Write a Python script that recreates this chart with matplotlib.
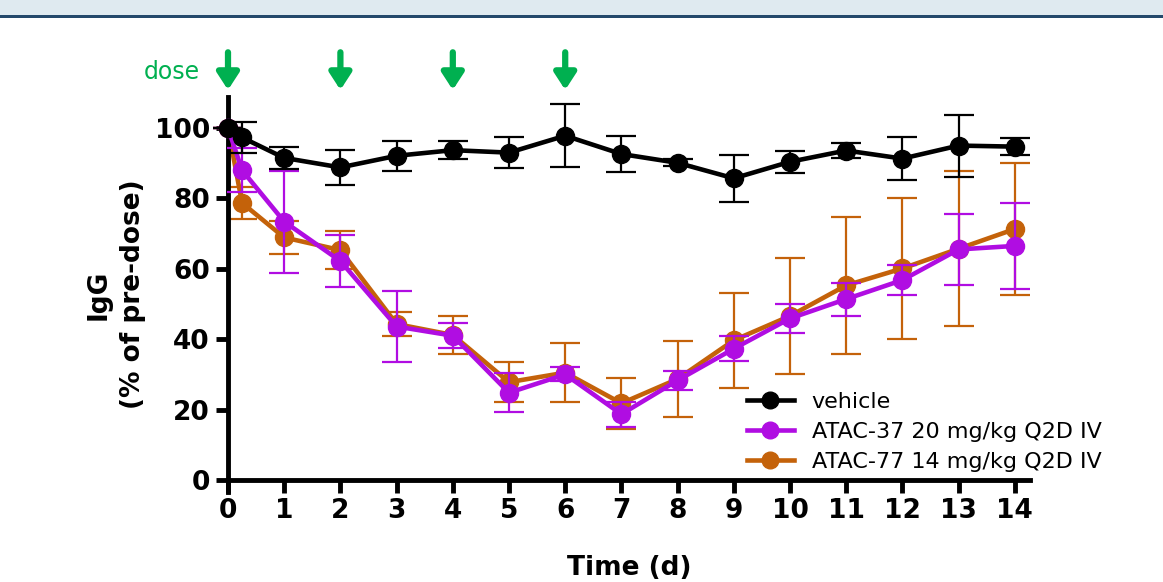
import numpy as np
import matplotlib
matplotlib.use("Agg")
import matplotlib.pyplot as plt
from matplotlib.patches import Rectangle

# time points (days)
t = [0, 0.25, 1, 2, 3, 4, 5, 6, 7, 8, 9, 10, 11, 12, 13, 14]

vehicle = [100, 97.3, 91.5, 88.8, 92.1, 93.7, 93.0, 97.8, 92.6, 90.1, 85.7, 90.4, 93.6, 91.3, 95.0, 94.7]
vehicle_err = [0, 4.3, 3.1, 5.0, 4.3, 2.5, 4.3, 9.0, 5.0, 1.0, 6.6, 3.2, 2.2, 6.0, 8.8, 2.5]

atac37 = [100, 88.0, 73.4, 62.2, 43.6, 41.0, 24.8, 30.0, 18.7, 28.3, 37.3, 45.9, 51.4, 56.8, 65.5, 66.5]
atac37_err = [0, 6.2, 14.5, 7.5, 10.0, 3.5, 5.5, 2.0, 3.5, 2.6, 3.5, 4.0, 4.7, 4.3, 10.0, 12.3]

atac77 = [100, 78.7, 68.9, 65.3, 44.3, 41.2, 27.8, 30.5, 21.8, 28.7, 39.7, 46.6, 55.3, 60.1, 65.7, 71.3]
atac77_err = [0, 4.5, 4.7, 5.3, 3.3, 5.3, 5.6, 8.3, 7.3, 10.7, 13.5, 16.5, 19.5, 20.0, 22.0, 18.8]

labels = ["vehicle", "ATAC-37 20 mg/kg Q2D IV", "ATAC-77 14 mg/kg Q2D IV"]
dose_days = [0, 2, 4, 6]

c_black = "#000000"
c_purple = "#B00DE2"
c_orange = "#C4620A"
c_green = "#00B050"

plt.rcParams['font.family'] = ['DejaVu Sans']

fig = plt.figure(figsize=(11.63, 5.82), dpi=100)

# cut-off header band at the top
fig.patches.append(Rectangle((0, 1 - 15/582), 1, 15/582, transform=fig.transFigure,
                             facecolor="#dfeaf0", edgecolor="none", zorder=0))
fig.patches.append(Rectangle((0, 1 - 18/582), 1, 3/582, transform=fig.transFigure,
                             facecolor="#24496b", edgecolor="none", zorder=1))

ax = fig.add_axes([228/1163, 1 - 492/582, (1030 - 228)/1163, (492 - 97)/582])

series = [(atac77, atac77_err, c_orange, labels[2]),
          (atac37, atac37_err, c_purple, labels[1]),
          (vehicle, vehicle_err, c_black, labels[0])]
handles = {}
for i, (y, e, c, lab) in enumerate(series):
    ax.errorbar(t, y, yerr=e, fmt='none', ecolor=c, elinewidth=1.6, capsize=11,
                capthick=1.6, clip_on=False, zorder=2 + i)
    ln, = ax.plot(t, y, '-o', color=c, lw=3.3, ms=13, clip_on=False, zorder=2 + i, label=lab)
    handles[lab] = ln

ax.set_xlim(0, 14.27)
ax.set_ylim(-3.4, 108.8)
ax.spines['bottom'].set_position(('data', 0))
ax.spines['top'].set_visible(False)
ax.spines['right'].set_visible(False)
for s in ['left', 'bottom']:
    ax.spines[s].set_linewidth(3.5)

ax.set_xticks(range(0, 15))
ax.set_yticks([0, 20, 40, 60, 80, 100])
ax.tick_params(axis='both', length=9, width=3.5, labelsize=19, pad=4)
for lbl in ax.get_xticklabels() + ax.get_yticklabels():
    lbl.set_fontweight('bold')

ax.set_xlabel("Time (d)", fontsize=19, fontweight='bold', labelpad=22)
ax.set_ylabel("IgG\n(% of pre-dose)", fontsize=19, fontweight='bold', labelpad=6,
              linespacing=1.45)

# dose arrows
for d in dose_days:
    ax.annotate("", xy=(d, 110.8), xytext=(d, 121.5),
                arrowprops=dict(arrowstyle="-|>,head_width=0.65,head_length=1.0",
                                color=c_green, lw=4.5, shrinkA=0, shrinkB=0),
                annotation_clip=False)
ax.text(-0.5, 115.8, "dose", color=c_green, fontsize=17, ha='right', va='center')

leg = ax.legend([handles[l] for l in labels], labels, loc='upper left',
                bbox_to_anchor=(736/1163, 1 - 381/582), bbox_transform=fig.transFigure,
                frameon=False, fontsize=16, handlelength=2.1, handletextpad=0.8,
                labelspacing=0.45, borderpad=0)
for h in leg.legend_handles:
    h.set_markersize(12)

fig.savefig("out.png", dpi=100)
